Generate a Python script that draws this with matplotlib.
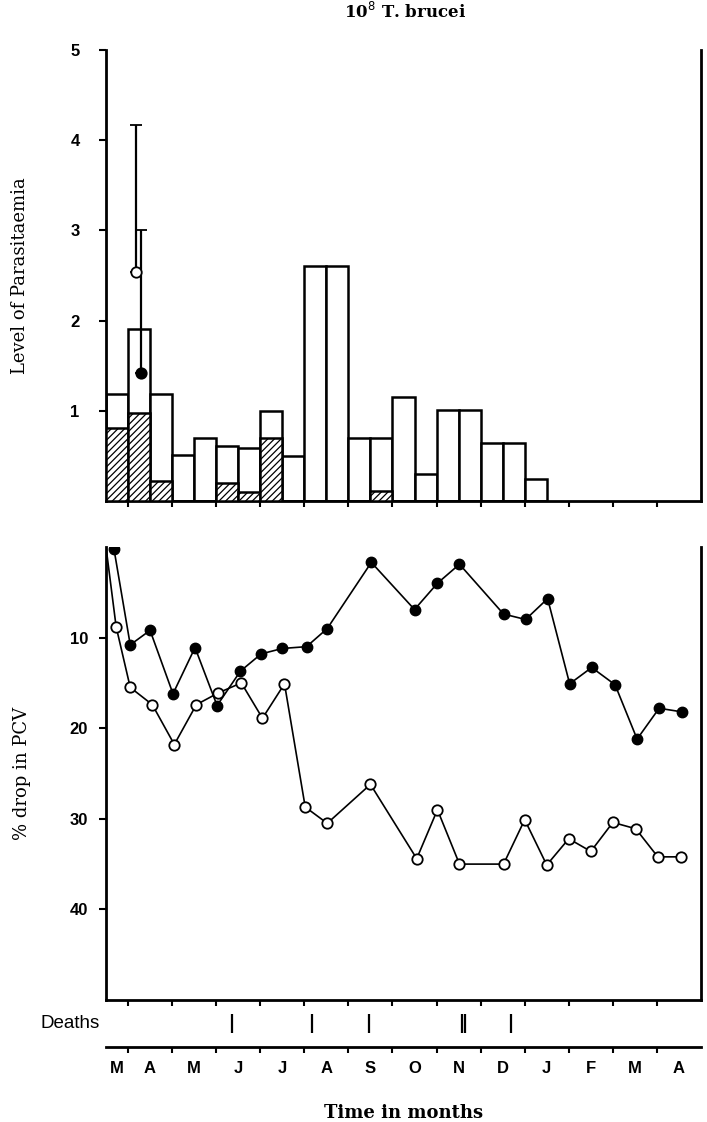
import numpy as np
import matplotlib.pyplot as plt

# time axis in months: 0.5 = mid March, 1 = start of April ... 14 = end of April
month_labels = ["M", "A", "M", "J", "J", "A", "S", "O", "N", "D", "J", "F", "M", "A"]
month_label_pos = [0.75, 1.5, 2.5, 3.5, 4.5, 5.5, 6.5, 7.5, 8.5, 9.5, 10.5, 11.5, 12.5, 13.5]
month_ticks = [1, 2, 3, 4, 5, 6, 7, 8, 9, 10, 11, 12, 13]

# parasitaemia, half-month bars (left edge of each bar)
bar_start = [0.5, 1.0, 1.5, 2.0, 2.5, 3.0, 3.5, 4.0, 4.5, 5.0,
             5.5, 6.0, 6.5, 7.0, 7.5, 8.0, 8.5, 9.0, 9.5, 10.0]
bar_total = [1.19, 1.91, 1.19, 0.51, 0.70, 0.61, 0.59, 1.00, 0.50, 2.60,
             2.60, 0.70, 0.70, 1.15, 0.30, 1.01, 1.01, 0.64, 0.64, 0.24]
bar_hatched = [0.81, 0.98, 0.22, 0.0, 0.0, 0.20, 0.10, 0.70, 0.0, 0.0,
               0.0, 0.0, 0.11, 0.0, 0.0, 0.0, 0.0, 0.0, 0.0, 0.0]

# mean points with upper error bars in early April
err_x = [1.19, 1.30]
err_y = [2.54, 1.42]
err_top = [4.17, 3.00]
err_filled = [False, True]

# % drop in PCV
filled_x = [0.68, 1.05, 1.5, 2.02, 2.52, 3.02, 3.55, 4.02, 4.5, 5.05, 5.52, 6.52,
            7.5, 8.02, 8.52, 9.52, 10.02, 10.52, 11.02, 11.52, 12.05, 12.55, 13.05, 13.57]
filled_y = [0.2, 10.8, 9.2, 16.2, 11.1, 17.5, 13.7, 11.8, 11.2, 11.0, 9.0, 1.7,
            6.9, 4.0, 1.9, 7.4, 8.0, 5.7, 15.1, 13.3, 15.2, 21.2, 17.8, 18.2]
open_x = [0.5, 0.73, 1.05, 1.55, 2.05, 2.55, 3.05, 3.57, 4.05, 4.55, 5.02, 5.52, 6.5,
          7.55, 8.02, 8.52, 9.52, 10.0, 10.5, 11.0, 11.5, 12.0, 12.52, 13.02, 13.55]
open_y = [0.0, 8.8, 15.5, 17.4, 21.8, 17.4, 16.1, 15.0, 18.9, 15.1, 28.7, 30.5, 26.2,
          34.4, 29.0, 35.0, 35.0, 30.1, 35.1, 32.2, 33.6, 30.4, 31.1, 34.2, 34.2]

deaths = [3.37, 5.17, 6.47, 8.57, 8.65, 9.7]

plt.rcParams["hatch.linewidth"] = 0.9
serif = ["DejaVu Serif"]
sans = ["Liberation Sans", "DejaVu Sans"]

fig = plt.figure(figsize=(7.07, 11.22), dpi=100)
W, H = 707, 1122


def box(x0, y0, x1, y1):
    return [x0 / W, 1 - y1 / H, (x1 - x0) / W, (y1 - y0) / H]


ax1 = fig.add_axes(box(106, 50, 701, 501))
ax2 = fig.add_axes(box(106, 547, 701, 1000))
ax3 = fig.add_axes(box(106, 1000, 701, 1047))

lw = 1.8
# top panel: bars
ax1.bar(bar_start, bar_total, width=0.5, align="edge", facecolor="white",
        edgecolor="black", linewidth=lw, zorder=2)
ax1.bar(bar_start, bar_hatched, width=0.5, align="edge", facecolor="white",
        edgecolor="black", linewidth=lw, hatch="/////", zorder=3)
for x, y, top, filled in zip(err_x, err_y, err_top, err_filled):
    ax1.errorbar(x, y, yerr=[[0], [top - y]], fmt="o", color="black", ms=7.5,
                 mfc="black" if filled else "white", mec="black", mew=1.3,
                 elinewidth=1.6, capsize=4, capthick=1.6, zorder=5)
ax1.set_xlim(0.5, 14)
ax1.set_ylim(0, 5)
ax1.set_yticks([1, 2, 3, 4, 5])
ax1.set_xticks(month_ticks)
ax1.set_xticklabels([])
ax1.spines["top"].set_visible(False)
for s in ["left", "right", "bottom"]:
    ax1.spines[s].set_linewidth(2)
ax1.tick_params(axis="y", length=5, width=1.5, labelsize=12, pad=14)
ax1.tick_params(axis="x", length=4, width=1.5)
for t in ax1.get_yticklabels():
    t.set_fontweight("bold")
    t.set_family(sans)
ax1.set_ylabel("Level of Parasitaemia", fontsize=13, family=serif, labelpad=30)

# bottom panel: PCV drop
ax2.plot(filled_x, filled_y, "-o", color="black", lw=1.2, ms=7.5,
         mfc="black", mec="black", zorder=3)
ax2.plot(open_x, open_y, "-o", color="black", lw=1.2, ms=7.5,
         mfc="white", mec="black", mew=1.3, markevery=list(range(1, len(open_x))),
         zorder=4)
ax2.set_xlim(0.5, 14)
ax2.set_ylim(50, 0)
ax2.set_yticks([10, 20, 30, 40])
ax2.set_xticks(month_ticks)
ax2.set_xticklabels([])
ax2.spines["top"].set_visible(False)
for s in ["left", "right", "bottom"]:
    ax2.spines[s].set_linewidth(2)
ax2.tick_params(axis="y", length=5, width=1.5, labelsize=12, pad=8)
ax2.tick_params(axis="x", length=4, width=1.5)
for t in ax2.get_yticklabels():
    t.set_fontweight("bold")
    t.set_family(sans)
ax2.set_ylabel("% drop in PCV", fontsize=13, family=serif, labelpad=28)

# deaths strip
ax3.vlines(deaths, 0.3, 0.7, color="black", lw=1.6)
ax3.set_xlim(0.5, 14)
ax3.set_ylim(0, 1)
ax3.set_yticks([])
ax3.set_xticks(month_ticks)
ax3.set_xticklabels([])
ax3.set_xticks(month_label_pos, minor=True)
ax3.set_xticklabels(month_labels, minor=True, fontsize=12, fontweight="bold",
                    family=sans)
ax3.tick_params(axis="x", which="minor", length=0, pad=10)
ax3.tick_params(axis="x", which="major", length=4, width=1.5)
for s in ["left", "right", "top"]:
    ax3.spines[s].set_visible(False)
ax3.spines["bottom"].set_linewidth(2)
ax3.patch.set_alpha(0)
ax3.text(0.35, 0.5, "Deaths", transform=ax3.transData, ha="right", va="center",
         fontsize=13.5, family=sans)
ax3.set_xlabel("Time in months", fontsize=13, fontweight="bold", family=serif,
               labelpad=20)

fig.text(0.573, 0.989, r"10$^{8}$ T. brucei", ha="center", va="center",
         fontsize=12, fontweight="bold", family=serif)

fig.savefig("out.png", dpi=100)
